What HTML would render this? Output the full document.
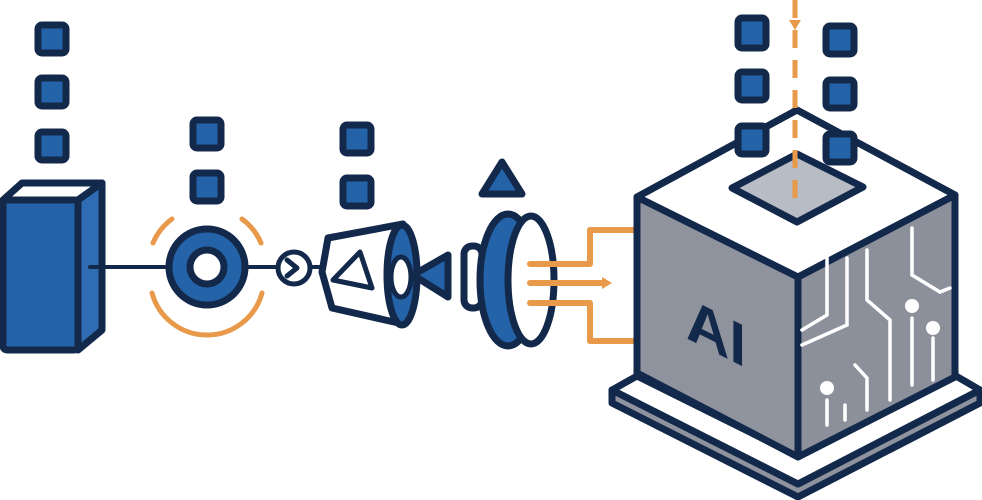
<!DOCTYPE html>
<html><head><meta charset="utf-8"><style>
html,body{margin:0;padding:0;background:#fff;}
svg{display:block;}
</style></head><body>
<svg width="982" height="500" viewBox="0 0 982 500" xmlns="http://www.w3.org/2000/svg">
<g stroke="#13294b" stroke-linejoin="round" stroke-linecap="round">
<g fill="#2563a8" stroke-width="7">
<rect x="38" y="25" width="28" height="28" rx="4"/>
<rect x="38" y="78" width="28" height="28" rx="4"/>
<rect x="38" y="132" width="28" height="28" rx="4"/>
<rect x="193" y="120" width="28" height="28" rx="4"/>
<rect x="193" y="173" width="28" height="28" rx="4"/>
<rect x="343" y="125" width="28" height="28" rx="4"/>
<rect x="343" y="178" width="28" height="28" rx="4"/>
<rect x="738" y="18" width="28" height="30" rx="4"/>
<rect x="738" y="72" width="28" height="28" rx="4"/>
<rect x="826" y="26" width="28" height="28" rx="4"/>
<rect x="826" y="80" width="28" height="28" rx="4"/>
</g>
<polygon points="3,200 22,183 102,183 78,200" fill="#fff" stroke-width="7"/>
<polygon points="78,200 102,183 102,330 78,350" fill="#2f6cb3" stroke-width="7"/>
<rect x="3" y="200" width="75" height="150" rx="4" fill="#2563a8" stroke-width="7"/>
<line x1="90" y1="267" x2="280" y2="267" stroke-width="4"/>
<line x1="310" y1="267" x2="330" y2="267" stroke-width="4"/>
<g fill="none" stroke="#e8994a" stroke-width="5">
<path d="M153,243 A57,57 0 0 1 172,219"/>
<path d="M242,219 A57,57 0 0 1 261,243"/>
<path d="M152,293 A57,57 0 0 0 262,293"/>
</g>
<circle cx="207" cy="267" r="38" fill="#2563a8" stroke-width="7"/>
<circle cx="207" cy="267" r="17" fill="#fff" stroke-width="7"/>
<circle cx="294" cy="268" r="16" fill="#fff" stroke-width="5"/>
<polyline points="287,260 297,268 287,276" fill="none" stroke-width="5"/>
<polygon points="328,238 403,224 403,324 332,308 322,272" fill="#fff" stroke-width="7"/>
<ellipse cx="402" cy="275" rx="15" ry="50" fill="#2563a8" stroke-width="7"/>
<ellipse cx="401" cy="277" rx="10" ry="20" fill="#fff" stroke-width="5"/>
<polygon points="333,280 360,252 372,288" fill="#fff" stroke-width="5"/>
<polygon points="413,275 448,255 448,297" fill="#2563a8" stroke-width="7"/>
<polygon points="482,194 502,162 522,194" fill="#2563a8" stroke-width="7"/>
<rect x="464" y="246" width="18" height="62" rx="8" fill="#fff" stroke-width="7"/>
<ellipse cx="508" cy="280" rx="28" ry="66" fill="#2563a8" stroke-width="7"/>
<ellipse cx="531" cy="280" rx="23" ry="64" fill="#fff" stroke-width="7"/>
</g>
<g fill="none" stroke="#e8994a" stroke-width="6" stroke-linecap="round" stroke-linejoin="round">
<polyline points="530,264 590,264 590,230 658,230"/>
<polyline points="530,303 590,303 590,341 658,341"/>
<line x1="530" y1="283" x2="606" y2="283"/>
</g>
<polygon points="602,277 612,283 602,289" fill="#e8994a"/>
<g stroke="#13294b" stroke-width="7" stroke-linejoin="round">
<polygon points="612,390 798,484 980,390 980,403 798,497 612,403" fill="#8f939e"/>
<polygon points="612,390 637,376 798,456 956,376 980,390 798,484" fill="#fff"/>
<polygon points="637,197 798,277 798,457 637,373" fill="#8f939e"/>
<polygon points="798,277 955,195 955,377 798,457" fill="#8c909b"/>
<polygon points="637,197 797,110 955,195 798,277" fill="#fff"/>
<polygon points="732,188 797,154 863,187 797,222" fill="#b8bcc4"/>
</g>
<g fill="#2563a8" stroke="#13294b" stroke-width="7" stroke-linejoin="round">
<rect x="738" y="126" width="28" height="28" rx="4"/>
<rect x="826" y="134" width="28" height="28" rx="4"/>
</g>
<g fill="none" stroke="#fff" stroke-width="3.5" stroke-linecap="round">
<polyline points="827,258 827,315 802,330"/>
<polyline points="847,258 847,325 802,345"/>
<polyline points="867,250 867,300 890,320 890,400"/>
<polyline points="912,228 912,275 940,292 950,288"/>
<polyline points="912,318 912,385"/>
<polyline points="933,338 933,380"/>
<polyline points="855,365 867,378 867,410"/>
<polyline points="827,400 827,425"/>
<polyline points="845,405 845,420"/>
</g>
<g fill="#fff"><circle cx="912" cy="306" r="7"/><circle cx="933" cy="328" r="7"/><circle cx="827" cy="388" r="7"/></g>
<text transform="translate(686,338) skewY(26.6)" font-family="Liberation Sans, sans-serif" font-weight="bold" font-size="60" fill="#13294b">AI</text>
<line x1="795" y1="0" x2="795" y2="200" stroke="#e8994a" stroke-width="5" stroke-dasharray="18,12"/>
<polygon points="789,20 801,20 795,30" fill="#e8994a"/>
</svg>
</body></html>
